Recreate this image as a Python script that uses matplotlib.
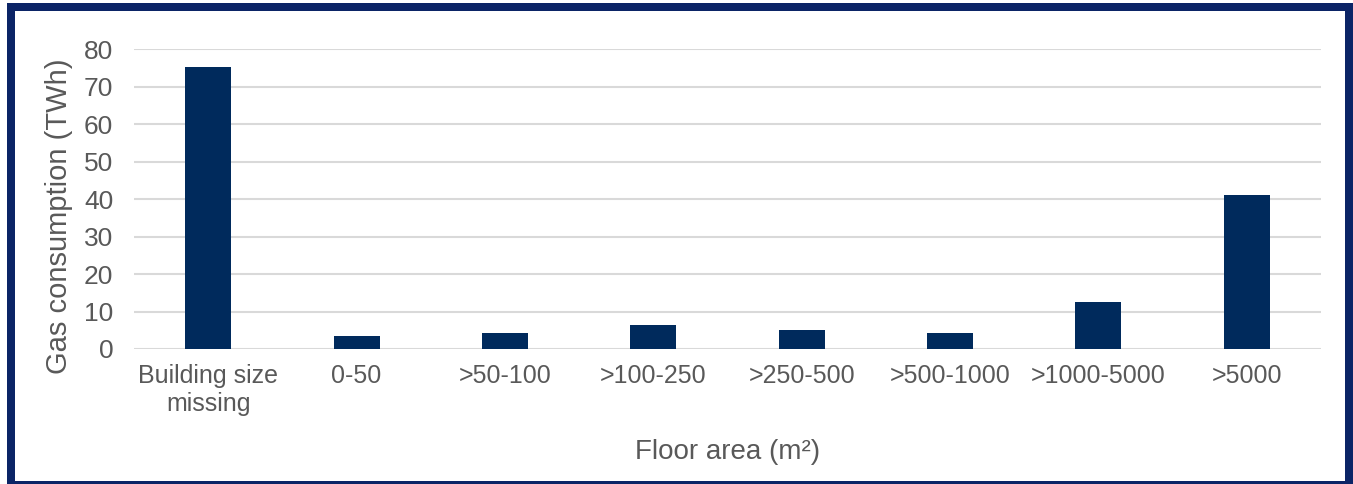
import numpy as np
import matplotlib.pyplot as plt
from matplotlib.patches import Rectangle

plt.rcParams["font.family"] = ["Liberation Sans", "DejaVu Sans"]

# -----------------------------------------------------------------------------
# Dados
# -----------------------------------------------------------------------------
categorias = ["Building size\nmissing", "0-50", ">50-100", ">100-250",
              ">250-500", ">500-1000", ">1000-5000", ">5000"]
consumo_twh = [75.4, 3.6, 4.4, 6.5, 5.1, 4.4, 12.6, 41.2]
ticks_y = [0, 10, 20, 30, 40, 50, 60, 70, 80]

cor_barra = "#002a5c"
cor_texto = "#595959"
cor_grade = "#d9d9d9"
cor_borda = "#0b2466"

# -----------------------------------------------------------------------------
# Figura
# -----------------------------------------------------------------------------
W, H = 1353, 484
fig = plt.figure(figsize=(W / 100, H / 100), dpi=100)
ax = fig.add_axes([134 / W, 1 - 349 / H, (1321 - 134) / W, (349 - 49.3) / H])

x = np.arange(len(categorias))
ax.bar(x, consumo_twh, width=0.31, color=cor_barra, zorder=3)

ax.set_xlim(-0.5, len(categorias) - 0.5)
ax.set_ylim(0, 80)
ax.set_yticks(ticks_y)
ax.set_xticks(x)
ax.set_xticklabels(categorias, fontsize=18, color=cor_texto, linespacing=1.2)
ax.tick_params(axis="y", length=0, pad=15, labelsize=19, labelcolor=cor_texto)
ax.tick_params(axis="x", length=0, pad=11)

ax.yaxis.grid(True, color=cor_grade, linewidth=1.5, zorder=0)
for s in ax.spines.values():
    s.set_visible(False)

ax.set_ylabel("Gas consumption (TWh)", fontsize=21, color=cor_texto)
ax.yaxis.set_label_coords(-0.0514, 0.444)
ax.set_xlabel("Floor area (m²)", fontsize=20, color=cor_texto)
ax.xaxis.set_label_coords(0.5, -0.300)

# moldura azul em volta da figura (4 faixas)
faixas = [
    (7, 0, 8, H - 3),        # esquerda
    (1345, 0, 8, H - 3),     # direita
    (7, H - 11, 1346, 8),    # topo
    (7, 0, 1346, 3),         # base
]
for x0, y0, w, h in faixas:
    fig.patches.append(Rectangle((x0 / W, y0 / H), w / W, h / H,
                                 transform=fig.transFigure,
                                 facecolor=cor_borda, edgecolor="none"))

fig.savefig("out.png", dpi=100)
